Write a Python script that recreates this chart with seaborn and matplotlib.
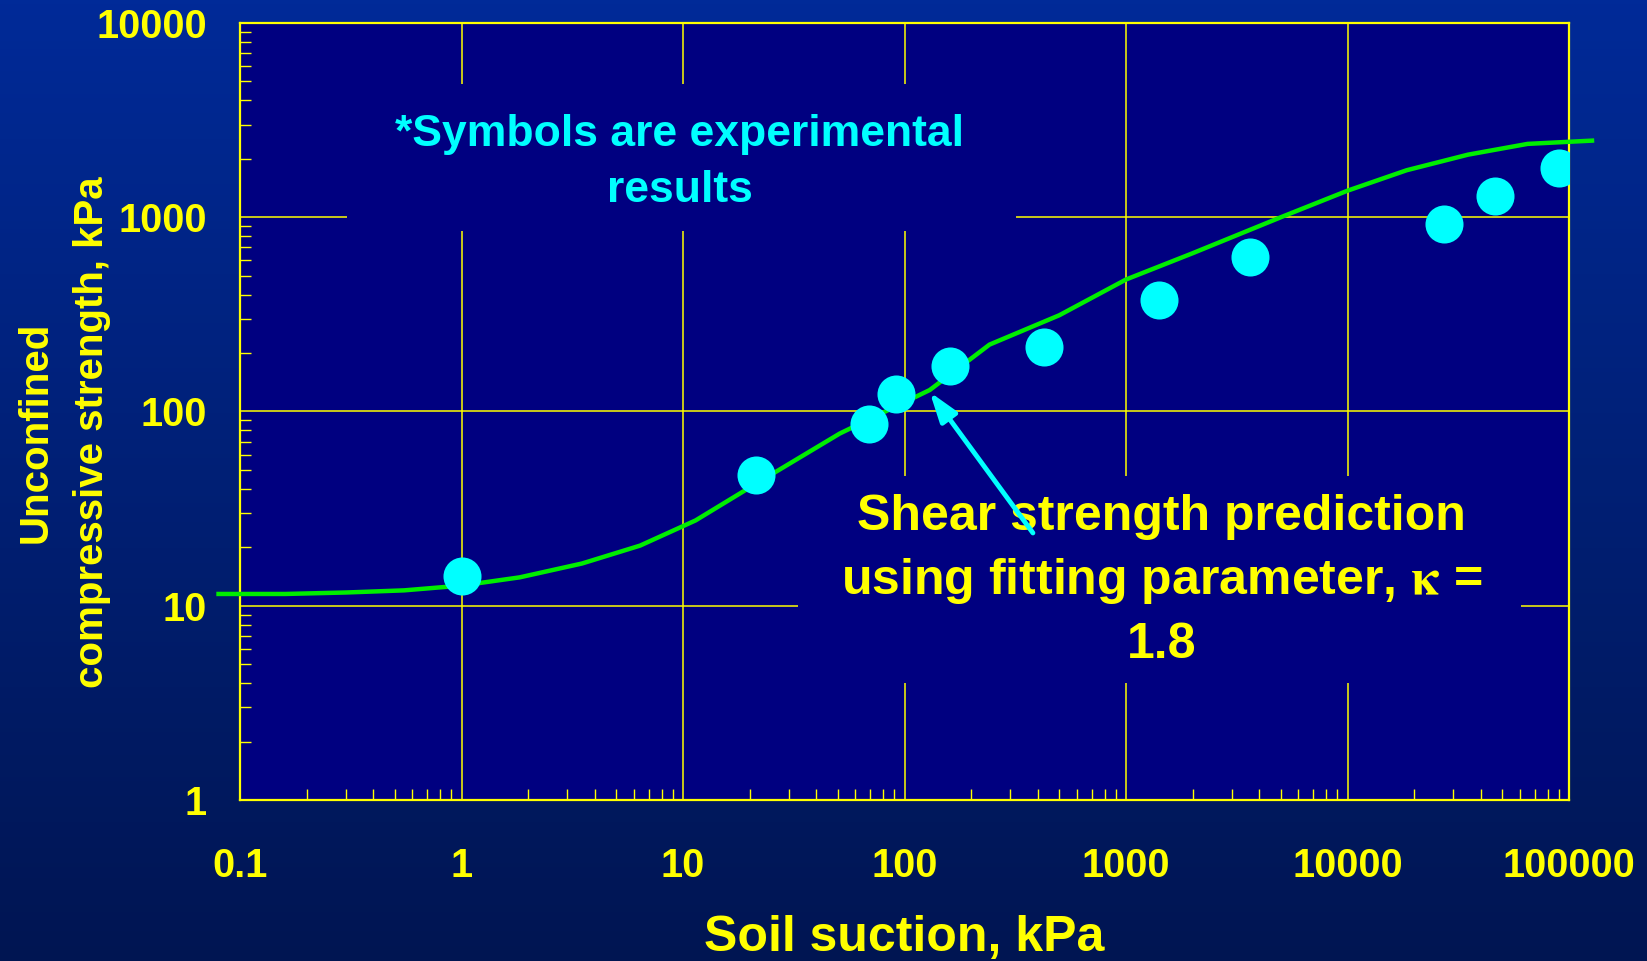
import numpy as np
import pandas as pd
import matplotlib
matplotlib.use("Agg")
import matplotlib.pyplot as plt
from matplotlib.patches import Rectangle
import seaborn as sns

# experimental points (soil suction kPa, UCS kPa)
suction_exp = [1.0, 21.4, 69, 92, 160, 428, 1406, 3640, 27200, 46400, 90300]
ucs_exp = [14.2, 47, 86, 123, 172, 215, 377, 621, 925, 1279, 1790]

# predicted curve, kappa = 1.8
suction_fit = [0.08, 0.16, 0.3, 0.55, 1.0, 1.83, 3.5, 6.4, 11.4, 21, 51, 130,
               242, 500, 1000, 2000, 5000, 10000, 18500, 35000, 65000, 127000]
ucs_fit = [11.5, 11.5, 11.7, 12.0, 12.7, 14.0, 16.5, 20.4, 27.5, 42, 77, 129,
           221, 313, 478, 653, 1000, 1370, 1746, 2100, 2386, 2480]

xticks = [0.1, 1, 10, 100, 1000, 10000, 100000]
xtick_labels = ["0.1", "1", "10", "100", "1000", "10000", "100000"]
yticks = [1, 10, 100, 1000, 10000]
ytick_labels = ["1", "10", "100", "1000", "10000"]

YEL = "#ffff00"
CYAN = "#00ffff"
NAVY = "#000080"

plt.rcParams["font.family"] = ["Liberation Sans", "DejaVu Sans"]
plt.rcParams["font.weight"] = "bold"
plt.rcParams["mathtext.fontset"] = "stix"

W, H = 1647, 961
fig = plt.figure(figsize=(W / 100, H / 100), dpi=100)

# gradient background
bg = fig.add_axes([0, 0, 1, 1], zorder=-10)
top = np.array([0, 42, 152]) / 255
bot = np.array([0, 21, 82]) / 255
t = np.linspace(0, 1, 256)[:, None]
grad = (top[None, :] * (1 - t) + bot[None, :] * t)[:, None, :]
bg.imshow(grad, aspect="auto", extent=[0, 1, 0, 1])
bg.axis("off")

ax = fig.add_axes([240 / W, 1 - 800 / H, 1329 / W, 777 / H])
ax.set_facecolor(NAVY)

exp_df = pd.DataFrame({"suction": suction_exp, "ucs": ucs_exp})
fit_df = pd.DataFrame({"suction": suction_fit, "ucs": ucs_fit})

sns.lineplot(data=fit_df, x="suction", y="ucs", ax=ax, color="#00ee00",
             lw=3.2, clip_on=False, zorder=2.6)
sns.scatterplot(data=exp_df, x="suction", y="ucs", ax=ax, color=CYAN,
                s=750, linewidth=0, zorder=3)

ax.set_xscale("log")
ax.set_yscale("log")
ax.set_xlim(0.1, 100000)
ax.set_ylim(1, 10000)
ax.set_xticks(xticks)
ax.set_xticklabels(xtick_labels)
ax.set_yticks(yticks)
ax.set_yticklabels(ytick_labels)
ax.set_xlabel("")
ax.set_ylabel("")

ax.set_axisbelow(True)
ax.grid(True, which="major", color=YEL, lw=1.1)
ax.tick_params(which="both", direction="in", color=YEL, labelcolor=YEL,
               top=False, right=False)
ax.tick_params(which="major", length=0)
ax.tick_params(which="minor", length=8, width=1.0)
ax.tick_params(axis="x", which="major", labelsize=28.5, pad=34)
ax.tick_params(axis="y", which="major", labelsize=28.5, pad=24)
for lab in ax.get_xticklabels() + ax.get_yticklabels():
    lab.set_fontweight("bold")
for sp in ax.spines.values():
    sp.set_color(YEL)
    sp.set_linewidth(1.6)

# boxes behind the texts hide the grid
ax.add_patch(Rectangle((0.0805, 0.732), 0.5035, 0.1895, transform=ax.transAxes,
                       facecolor=NAVY, edgecolor="none", zorder=1.5))
ax.add_patch(Rectangle((0.420, 0.1506), 0.544, 0.2664, transform=ax.transAxes,
                       facecolor=NAVY, edgecolor="none", zorder=1.5))

# va='baseline' on multi-line text sits on the last line
ax.text(0.331, 0.7696, "*Symbols are experimental\nresults", transform=ax.transAxes,
        ha="center", va="baseline", color=CYAN, fontsize=32, fontweight="bold",
        linespacing=1.48, zorder=4, multialignment="center")
ax.text(0.6937, 0.1828,
        "Shear strength prediction\nusing fitting parameter, $\\mathbf{\\kappa}$ =\n1.8",
        transform=ax.transAxes, ha="center", va="baseline", color=YEL,
        fontsize=36, fontweight="bold", linespacing=1.43, zorder=4,
        multialignment="center")

ax.annotate("", xy=(130, 126), xytext=(380, 23.7),
            arrowprops=dict(arrowstyle="-|>,head_length=0.6,head_width=0.2",
                            color=CYAN, lw=3.5, mutation_scale=30,
                            shrinkA=0, shrinkB=0),
            zorder=5)

fig.text(904.5 / W, 1 - 951 / H, "Soil suction, kPa", ha="center",
         va="baseline", color=YEL, fontsize=36, fontweight="bold")
fig.text(64 / W, 1 - 432 / H, "Unconfined\ncompressive strength, kPa",
         rotation=90, ha="center", va="center", color=YEL, fontsize=29,
         fontweight="bold", multialignment="center", linespacing=1.63)

fig.savefig("out.png", dpi=100, facecolor=fig.get_facecolor())
